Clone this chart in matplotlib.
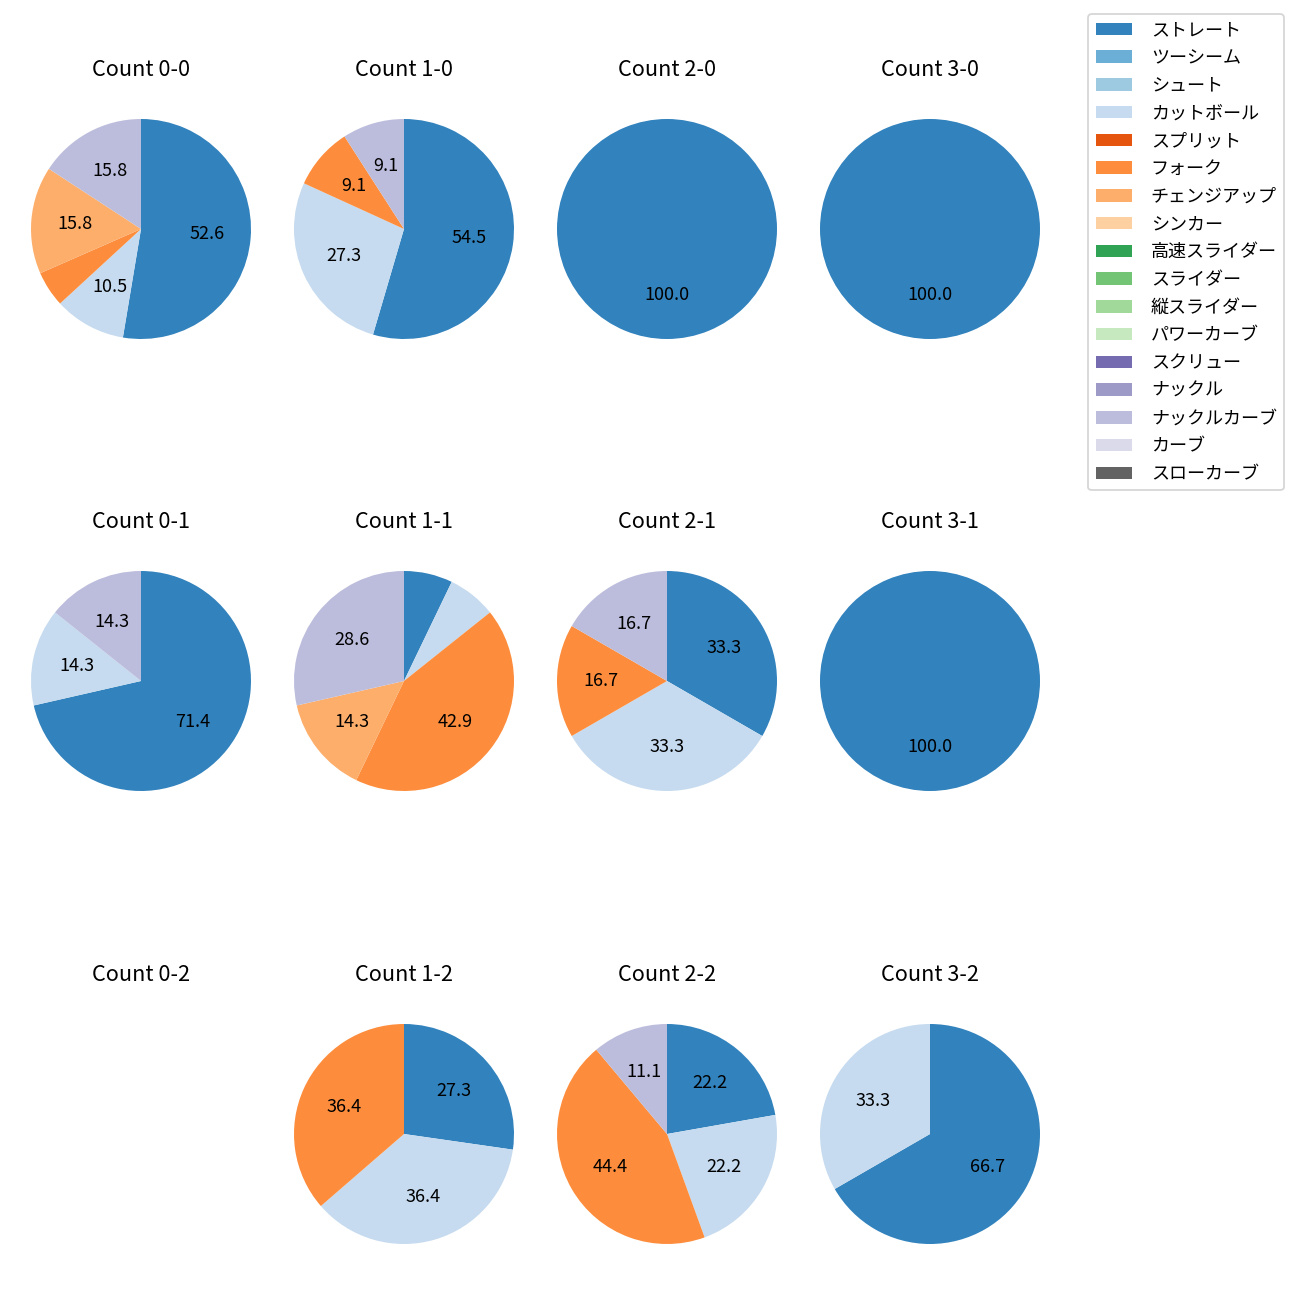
import matplotlib
matplotlib.use("Agg")
import matplotlib.pyplot as plt
from matplotlib.patches import Patch

plt.rcParams["font.family"] = ["Noto Sans CJK JP", "DejaVu Sans"]

pitch_types = ["ストレート", "ツーシーム", "シュート", "カットボール", "スプリット", "フォーク",
               "チェンジアップ", "シンカー", "高速スライダー", "スライダー", "縦スライダー",
               "パワーカーブ", "スクリュー", "ナックル", "ナックルカーブ", "カーブ", "スローカーブ"]
colors = [plt.get_cmap("tab20c")(i) for i in range(len(pitch_types))]

# pitch counts per ball-strike count (balls-strikes), in pitch_types order (only non-zero kept)
counts = {
    "0-0": {"ストレート": 10, "カットボール": 2, "フォーク": 1, "チェンジアップ": 3, "ナックルカーブ": 3},
    "1-0": {"ストレート": 6, "カットボール": 3, "フォーク": 1, "ナックルカーブ": 1},
    "2-0": {"ストレート": 1},
    "3-0": {"ストレート": 1},
    "0-1": {"ストレート": 5, "カットボール": 1, "ナックルカーブ": 1},
    "1-1": {"ストレート": 1, "カットボール": 1, "フォーク": 6, "チェンジアップ": 2, "ナックルカーブ": 4},
    "2-1": {"ストレート": 2, "カットボール": 2, "フォーク": 1, "ナックルカーブ": 1},
    "3-1": {"ストレート": 1},
    "0-2": {},
    "1-2": {"ストレート": 3, "カットボール": 4, "フォーク": 4},
    "2-2": {"ストレート": 2, "カットボール": 2, "フォーク": 4, "ナックルカーブ": 1},
    "3-2": {"ストレート": 2, "カットボール": 1},
}

fig = plt.figure(figsize=(10, 10), dpi=130)

box = 275 / 1300
xs = [141, 404, 667, 930]
ys = [229, 681, 1134]

for strikes in range(3):
    for balls in range(4):
        key = f"{balls}-{strikes}"
        cx = xs[balls] / 1300
        cy = 1 - ys[strikes] / 1300
        ax = fig.add_axes([cx - box / 2, cy - box / 2, box, box])
        data = counts[key]
        if data:
            names = [p for p in pitch_types if p in data]
            vals = [data[p] for p in names]
            cols = [colors[pitch_types.index(p)] for p in names]
            ax.pie(vals, colors=cols, startangle=90, counterclock=False,
                   autopct=lambda p: f"{p:.1f}" if p >= 8 else "")
        else:
            ax.set_xlim(-1.25, 1.25)
            ax.set_ylim(-1.25, 1.25)
            ax.axis("off")
        ax.set_title(f"Count {key}", pad=8.8)

handles = [Patch(facecolor=c, label=n) for c, n in zip(colors, pitch_types)]
fig.legend(handles=handles, loc="upper right", labelspacing=0.54, handletextpad=1.05,
           bbox_to_anchor=(1284 / 1300, 1 - 14 / 1300), borderaxespad=0)

plt.savefig("out.png")
